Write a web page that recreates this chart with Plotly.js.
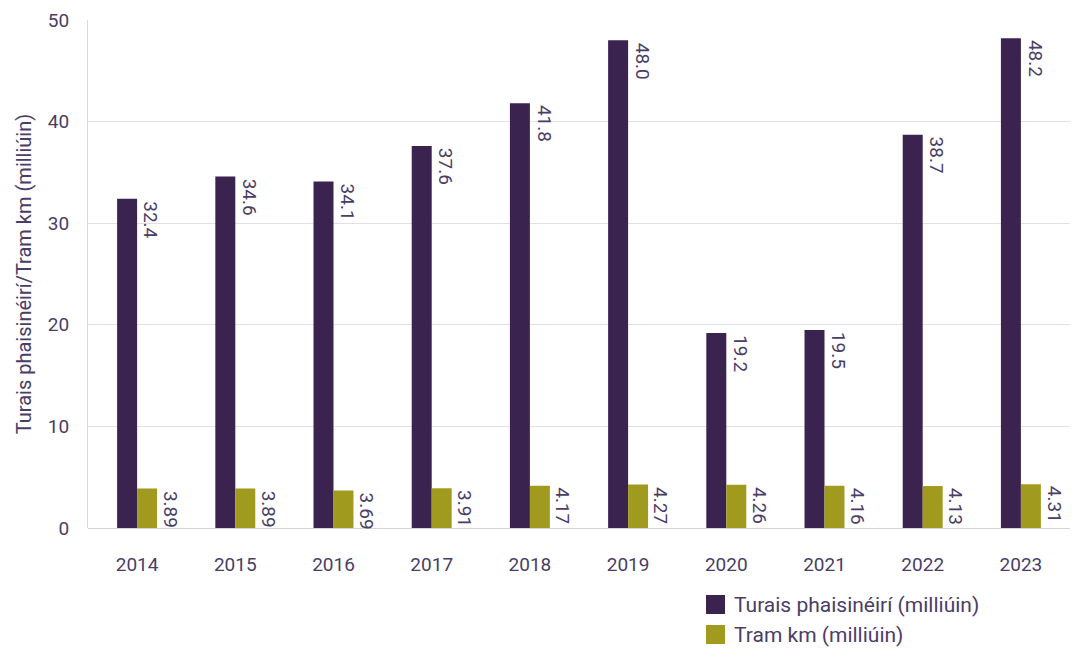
<!DOCTYPE html>
<html>
<head>
<meta charset="utf-8">
<script src="https://cdn.plot.ly/plotly-3.0.1.min.js"></script>
<style>html,body{margin:0;padding:0;background:#fff}#chart{width:1072px;height:649px}</style>
</head>
<body>
<div id="chart"></div>
<script>
const years = ['2014','2015','2016','2017','2018','2019','2020','2021','2022','2023'];
const journeys = [32.4, 34.6, 34.1, 37.6, 41.8, 48.0, 19.2, 19.5, 38.7, 48.2];
const tramKm = [3.89, 3.89, 3.69, 3.91, 4.17, 4.27, 4.26, 4.16, 4.13, 4.31];
const journeysLabels = ['32.4','34.6','34.1','37.6','41.8','48.0','19.2','19.5','38.7','48.2'];
const tramKmLabels = ['3.89','3.89','3.69','3.91','4.17','4.27','4.26','4.16','4.13','4.31'];
const seriesNames = ['Turais phaisinéirí (milliúin)', 'Tram km (milliúin)'];
const seriesColors = ['#3b2350', '#a09a1f'];
const yTitle = 'Turais phaisinéirí/Tram km (milliúin)';

const textColor = '#4a3d66';
const fontFam = 'Roboto, "Open Sans", sans-serif';

const traces = [
  {type:'bar', name: seriesNames[0], x: years, y: journeys, marker:{color:seriesColors[0]}, hoverinfo:'none', showlegend:false},
  {type:'bar', name: seriesNames[1], x: years, y: tramKm, marker:{color:seriesColors[1]}, hoverinfo:'none', showlegend:false}
];

const annotations = [];
years.forEach((yr, i) => {
  annotations.push({x: i, y: journeys[i], xref:'x', yref:'y', text: journeysLabels[i], showarrow:false,
    textangle: 90, xanchor:'center', yanchor:'top', xshift: 14, font:{family:fontFam, size:19, color:textColor}});
  annotations.push({x: i, y: tramKm[i], xref:'x', yref:'y', text: tramKmLabels[i], showarrow:false,
    textangle: 90, xanchor:'center', yanchor:'top', xshift: 33, font:{family:fontFam, size:19, color:textColor}});
});

// custom legend (larger swatches)
const shapes = [];
seriesNames.forEach((nm, k) => {
  const yTopPx = 595 + k * 30;
  shapes.push({type:'rect', xref:'paper', yref:'paper',
    x0: (706 - 88) / 982, x1: (725 - 88) / 982,
    y0: (528 - (yTopPx + 19)) / 508, y1: (528 - yTopPx) / 508,
    fillcolor: seriesColors[k], line: {width: 0}});
  annotations.push({xref:'paper', yref:'paper', x: (732 - 88) / 982, y: (528 - (yTopPx + 9.5)) / 508,
    xanchor:'left', yanchor:'middle', text: nm, showarrow:false,
    font:{family:fontFam, size:21, color:textColor}});
});

const layout = {
  width: 1072, height: 649,
  margin: {l: 88, r: 2, t: 20, b: 121},
  paper_bgcolor: '#fff', plot_bgcolor: '#fff',
  font: {family: fontFam, color: textColor, size: 17},
  barmode: 'group', bargap: 0.593, bargroupgap: 0,
  showlegend: false,
  xaxis: {type: 'category', showgrid: false, zeroline: false, showline: false,
    ticks: 'outside', ticklen: 0, ticklabelstandoff: 19,
    tickfont: {family: fontFam, size: 19, color: textColor}},
  yaxis: {range: [0, 50], dtick: 10, tick0: 0, showgrid: true, gridcolor: '#e2dfe8', gridwidth: 1,
    zeroline: true, zerolinecolor: '#d6d3dc', zerolinewidth: 1,
    showline: true, linecolor: '#dcd9e2', linewidth: 1,
    ticks: '', ticklabelstandoff: 14,
    tickfont: {family: fontFam, size: 19, color: textColor},
    title: {text: yTitle, standoff: 10, font: {family: fontFam, size: 20, color: textColor}}},
  shapes: shapes,
  annotations: annotations
};

Plotly.newPlot('chart', traces, layout, {displayModeBar: false, staticPlot: true});
</script>
</body>
</html>
